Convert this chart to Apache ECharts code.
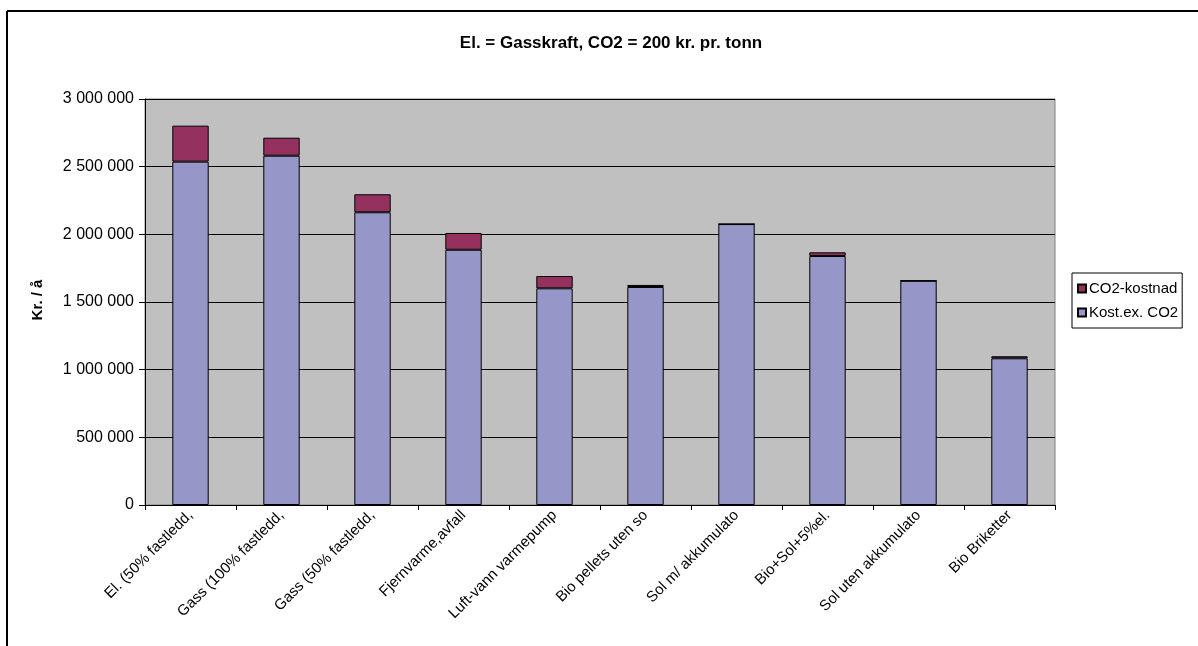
<!DOCTYPE html>
<html>
<head>
<meta charset="utf-8">
<script src="https://cdn.jsdelivr.net/npm/echarts@6/dist/echarts.min.js"></script>
<style>
html,body{margin:0;padding:0;background:#fff;}
#chart{width:1198px;height:646px;}
</style>
</head>
<body>
<div id="chart"></div>
<script>
const categories = ["El. (50% fastledd,", "Gass (100% fastledd,", "Gass (50% fastledd,", "Fjernvarme,avfall", "Luft-vann varmepump", "Bio pellets uten so", "Sol m/ akkumulato", "Bio+Sol+5%el.", "Sol uten akkumulato", "Bio Briketter"];
const kostExCO2 = [2537000, 2581000, 2163000, 1886000, 1601000, 1611000, 2076000, 1840000, 1657000, 1084000];
const co2Kostnad = [266000, 133000, 133000, 124000, 91000, 15000, 0, 27000, 0, 15000];
const titleText = "El. = Gasskraft, CO2 = 200 kr. pr. tonn";
const yAxisTitle = "Kr. / å";

const FONT = "Liberation Sans, Arial, sans-serif";
const chart = echarts.init(document.getElementById('chart'), null, {renderer: 'canvas'});

function fmt(v) {
  return String(v).replace(/\B(?=(\d{3})+(?!\d))/g, ' ');
}

chart.setOption({
  animation: false,
  backgroundColor: '#ffffff',
  title: {
    text: titleText,
    left: 606, textAlign: 'center', top: 30,
    textStyle: {fontFamily: FONT, fontSize: 17, fontWeight: 'bold', color: '#000'}
  },
  legend: {
    orient: 'vertical',
    left: 1072, top: 273,
    padding: [8, 4, 8, 5],
    itemGap: 9,
    borderColor: '#000', borderWidth: 1,
    backgroundColor: '#fff',
    icon: 'rect', itemWidth: 8, itemHeight: 8,
    textStyle: {fontFamily: FONT, fontSize: 15, color: '#000', padding: [0, 0, 0, -2]},
    data: ['CO2-kostnad', 'Kost.ex. CO2']
  },
  grid: {
    left: 145, right: 143, top: 99, bottom: 141,
    show: true, backgroundColor: '#c0c0c0', borderColor: '#808080', borderWidth: 1
  },
  xAxis: {
    type: 'category',
    data: categories,
    axisLine: {show: true, lineStyle: {color: '#000', width: 1}},
    axisTick: {show: true, alignWithLabel: false, length: 5, lineStyle: {color: '#000'}},
    axisLabel: {rotate: 45, margin: 8, fontFamily: FONT, fontSize: 15, color: '#000', interval: 0}
  },
  yAxis: {
    type: 'value',
    min: 0, max: 3000000, interval: 500000,
    axisLine: {show: true, lineStyle: {color: '#000', width: 1}},
    axisTick: {show: true, length: 6, lineStyle: {color: '#000'}},
    axisLabel: {fontFamily: FONT, fontSize: 16, color: '#000', margin: 11, formatter: fmt},
    splitLine: {show: true, lineStyle: {color: '#000', width: 1}}
  },
  series: [
    {
      name: 'Kost.ex. CO2', type: 'bar', stack: 's', barWidth: '40%',
      data: kostExCO2,
      itemStyle: {color: '#9696c8', borderColor: '#000', borderWidth: 1}
    },
    {
      name: 'CO2-kostnad', type: 'bar', stack: 's', barWidth: '40%',
      data: co2Kostnad,
      itemStyle: {color: '#94315e', borderColor: '#000', borderWidth: 1}
    }
  ],
  graphic: [
    {type: 'text', rotation: Math.PI / 2, x: 38, y: 300,
     style: {text: yAxisTitle, font: 'bold 15px ' + FONT, fill: '#000', textAlign: 'center', textVerticalAlign: 'middle'}},
    {type: 'line', shape: {x1: 7, y1: 11, x2: 1198, y2: 11}, style: {stroke: '#000', lineWidth: 2}},
    {type: 'line', shape: {x1: 7, y1: 11, x2: 7, y2: 646}, style: {stroke: '#000', lineWidth: 2}}
  ]
});
</script>
</body>
</html>
